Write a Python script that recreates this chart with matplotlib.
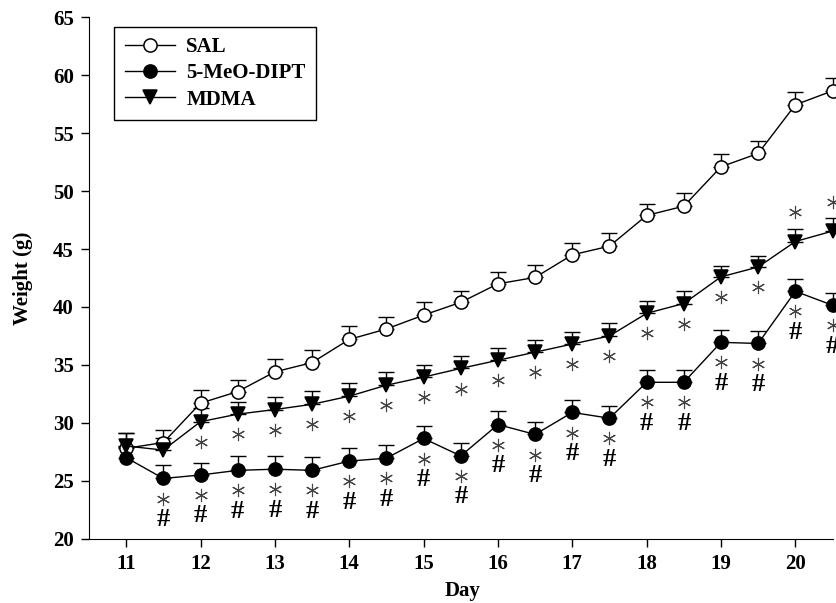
import numpy as np
import matplotlib
matplotlib.use('Agg')
import matplotlib.pyplot as plt
from matplotlib.transforms import offset_copy

plt.rcParams.update({'font.family': 'Liberation Serif', 'font.weight': 'bold',
                     'font.size': 15, 'axes.labelweight': 'bold'})

days = [11, 11.5, 12, 12.5, 13, 13.5, 14, 14.5, 15, 15.5,
        16, 16.5, 17, 17.5, 18, 18.5, 19, 19.5, 20, 20.5]

sal = [27.8, 28.3, 31.7, 32.7, 34.4, 35.2, 37.2, 38.1, 39.3, 40.4,
       42.0, 42.55, 44.5, 45.25, 47.9, 48.7, 52.1, 53.25, 57.45, 58.65]
sal_err = [1.3, 1.1, 1.1, 1.0, 1.1, 1.1, 1.15, 1.05, 1.1, 1.0,
           1.0, 1.05, 1.05, 1.1, 1.0, 1.15, 1.1, 1.05, 1.1, 1.1]

dipt = [27.0, 25.2, 25.5, 25.9, 26.0, 25.9, 26.7, 26.95, 28.65, 27.15,
        29.85, 29.0, 30.9, 30.4, 33.5, 33.5, 36.95, 36.85, 41.35, 40.15]
dipt_err = [0.9, 1.15, 1.0, 1.2, 1.1, 1.15, 1.15, 1.1, 1.05, 1.1,
            1.15, 1.1, 1.05, 1.05, 1.05, 1.05, 1.1, 1.1, 1.1, 1.05]

mdma = [28.0, 27.65, 30.1, 30.75, 31.15, 31.6, 32.3, 33.25, 33.95, 34.7,
        35.4, 36.1, 36.8, 37.5, 39.45, 40.3, 42.6, 43.45, 45.65, 46.55]
mdma_err = [1.1, 1.0, 1.15, 1.05, 1.1, 1.15, 1.1, 1.15, 1.05, 1.05,
            1.1, 1.05, 1.05, 1.1, 1.1, 1.05, 0.9, 0.95, 1.05, 1.1]

# significance marks: * vs SAL, # vs MDMA
mdma_star_below = days[2:18]
mdma_star_above = days[18:]
dipt_marks = days[1:]

fig = plt.figure(figsize=(8.37, 6.03), dpi=100)
ax = fig.add_axes([0.1063, 0.1066, 0.8937, 0.8647])

series = [(sal, sal_err, 'o', 'white', 'SAL'),
          (dipt, dipt_err, 'o', 'black', '5-MeO-DIPT'),
          (mdma, mdma_err, 'v', 'black', 'MDMA')]
for y, e, m, fc, lab in series:
    ax.errorbar(days, y, yerr=[np.zeros(len(e)), e], fmt='none', ecolor='black',
                elinewidth=1.0, capsize=5.6, capthick=1.0, zorder=2)
    ax.plot(days, y, marker=m, color='black', mfc=fc, mec='black', ms=9.5,
            mew=1.1, lw=1.0, label=lab, zorder=3)

mdma_d = dict(zip(days, mdma))
dipt_d = dict(zip(days, dipt))
star_kw = dict(marker=(6, 2, 0), ls='none', ms=9.5, mew=0.8, color='#444444', zorder=4)

below = offset_copy(ax.transData, fig=fig, y=-14.5, units='points')
above = offset_copy(ax.transData, fig=fig, y=21, units='points')
ax.plot(mdma_star_below, [mdma_d[d] for d in mdma_star_below], transform=below, **star_kw)
ax.plot(mdma_star_above, [mdma_d[d] for d in mdma_star_above], transform=above, **star_kw)
ax.plot(dipt_marks, [dipt_d[d] for d in dipt_marks], transform=below, **star_kw)
for d in dipt_marks:
    ax.annotate('#', (d, dipt_d[d]), xytext=(0, -29.5), textcoords='offset points',
                ha='center', va='center', fontsize=19, fontweight='bold')

ax.set_xlim(10.5, 20.56)
ax.set_ylim(20, 65)
ax.set_xticks(range(11, 21))
ax.set_yticks(range(20, 66, 5))
ax.spines['top'].set_visible(False)
ax.spines['right'].set_visible(False)
ax.spines['bottom'].set_bounds(10.5, 20.5)
ax.tick_params(direction='out', length=6, width=1, pad=5, labelsize=15)
ax.set_xlabel('Day', fontsize=15, labelpad=5)
ax.set_ylabel('Weight (g)', fontsize=15, labelpad=14)

leg = ax.legend(loc='upper left', bbox_to_anchor=(0.034, 0.982), borderaxespad=0,
                fancybox=False, edgecolor='black', framealpha=1,
                handlelength=2.4, handletextpad=0.55, labelspacing=0.3,
                borderpad=0.5, prop={'weight': 'bold', 'size': 15})
leg.get_frame().set_linewidth(1.0)

fig.savefig('out.png', dpi=100)
